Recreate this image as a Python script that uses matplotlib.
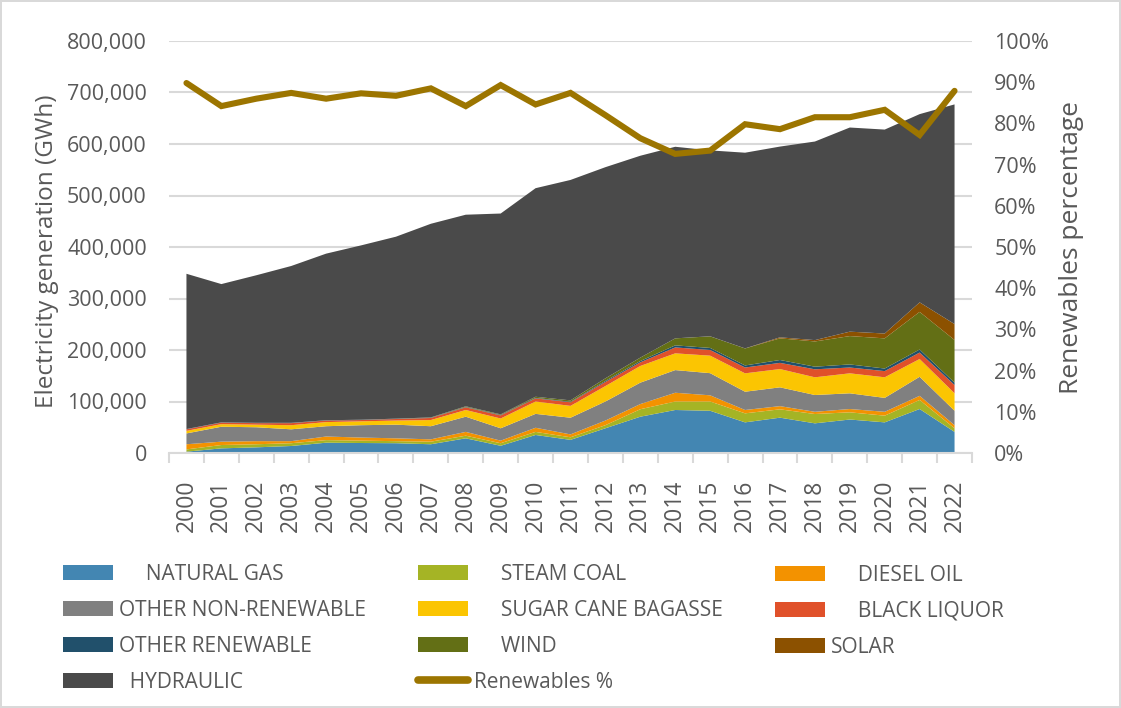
import matplotlib
matplotlib.use('Agg')
import matplotlib.pyplot as plt
import numpy as np
from matplotlib.ticker import FuncFormatter, FixedLocator
from matplotlib.patches import Patch
from matplotlib.lines import Line2D

# ---------------- data (thousand GWh) ----------------
years = [str(y) for y in range(2000, 2023)]
natural_gas = [2.6, 9, 11, 13.6, 20, 19.4, 19, 17, 28.5, 14, 35, 25.5, 48, 70.5, 83.5, 82, 59.5, 68.6, 57.6, 65, 59.5, 85.4, 41]
steam_coal = [4.4, 6.5, 6, 5.4, 5, 4.6, 4, 5, 5.1, 5, 6, 5, 6, 14.5, 16.5, 18, 17.5, 16.2, 18.1, 14, 13, 17.6, 7]
diesel_oil = [10, 6.5, 6, 4, 7, 6, 5.5, 4.5, 7.4, 5, 8, 5.6, 9, 10, 17, 12, 6.5, 6.2, 4.3, 6.4, 7.5, 8, 6]
other_nonren = [21, 29, 27, 23, 20, 24, 26.5, 25.5, 29.5, 24, 27, 32.4, 37, 41.6, 44, 43, 35.5, 36.5, 32.6, 30.5, 27, 37, 28]
sugar_cane = [5, 5, 5, 8, 8, 7.5, 8, 12, 13, 19, 24, 23, 30, 32.4, 32.5, 34, 35.7, 35.5, 34.4, 38.8, 40, 34.5, 34]
black_liquor = [3, 3, 3, 4, 3, 2.5, 3, 4, 5.2, 6, 6, 7, 8, 7, 11.5, 11, 11.3, 12, 15.5, 11.3, 12, 12.5, 16]
other_ren = [0.5, 0.5, 0.5, 0.5, 0.5, 0.5, 0.5, 0.5, 0.8, 0.8, 1, 1, 2, 2.6, 4, 4, 4, 5.6, 5.1, 6, 5, 6, 4.6]
wind = [0, 0, 0.1, 0.1, 0.1, 0.1, 0.2, 0.6, 1.2, 1.2, 2.2, 2.7, 5, 6.6, 13.6, 22.5, 33, 42, 49, 55, 58.6, 73, 82.8]
solar = [0, 0, 0, 0, 0, 0, 0, 0, 0, 0, 0, 0, 0, 0, 0.02, 0.1, 0.1, 2.0, 2.6, 8.6, 9.4, 18.5, 31]
hydraulic = [301.5, 268.5, 286.5, 304.5, 323.5, 338.5, 353.3, 376, 372, 390, 405, 428, 410, 392, 372, 361, 380, 370.4, 385.6, 396.4, 396, 365.5, 426.5]
renewables_pct = [89.8, 84.2, 86.0, 87.4, 86.0, 87.3, 86.7, 88.5, 84.2, 89.3, 84.6, 87.4, 82.0, 76.4, 72.6, 73.4, 79.8, 78.6, 81.5, 81.5, 83.3, 77.2, 87.9]

series_names = ["NATURAL GAS", "STEAM COAL", "DIESEL OIL", "OTHER NON-RENEWABLE",
                "SUGAR CANE BAGASSE", "BLACK LIQUOR", "OTHER RENEWABLE", "WIND", "SOLAR", "HYDRAULIC"]
series_vals = [natural_gas, steam_coal, diesel_oil, other_nonren, sugar_cane,
               black_liquor, other_ren, wind, solar, hydraulic]
colors = ['#4386b2', '#a5b425', '#f39200', '#808080', '#fbc502',
          '#e0512a', '#21506b', '#636f15', '#8c5100', '#4a4a4a']
line_color = '#9c7500'
text_color = '#595959'
grid_color = '#d9d9d9'

FONT = ['Open Sans', 'DejaVu Sans']
plt.rcParams['font.family'] = FONT

W, H = 1121, 708
fig = plt.figure(figsize=(W / 100, H / 100), dpi=100)
fig.patch.set_facecolor('white')
fig.patch.set_edgecolor(grid_color)
fig.patch.set_linewidth(1.5)

left, right, top, bottom = 169, 972, 41, 453
ax = fig.add_axes([left / W, 1 - bottom / H, (right - left) / W, (bottom - top) / H])

x = np.arange(len(years))
vals = [np.array(v) * 1000 for v in series_vals]
ax.stackplot(x, *vals, colors=colors, linewidth=0, zorder=2)

ax.set_xlim(-0.5, len(years) - 0.5)
ax.set_ylim(0, 800000)
ax.set_yticks(np.arange(0, 800001, 100000))
ax.yaxis.set_major_formatter(FuncFormatter(lambda v, p: f"{int(v):,}"))
ax.grid(axis='y', color=grid_color, linewidth=1.5, zorder=0)
ax.set_axisbelow(True)
for s in ['top', 'right', 'left']:
    ax.spines[s].set_visible(False)
ax.spines['bottom'].set_color(grid_color)
ax.spines['bottom'].set_linewidth(1.5)
ax.spines['bottom'].set_zorder(3)

ax.set_xticks(x)
ax.set_xticklabels(years, rotation=90, fontsize=16.5, color=text_color)
ax.tick_params(axis='x', which='major', length=0, pad=19)
ax.xaxis.set_minor_locator(FixedLocator(np.arange(-0.5, len(years), 1.0)))
ax.tick_params(axis='x', which='minor', length=7, width=1.5, color=grid_color)
ax.tick_params(axis='y', length=0, pad=16, labelsize=15.5, labelcolor=text_color)
ax.set_ylabel("Electricity generation (GWh)", fontsize=17.5, color=text_color)
ax.yaxis.set_label_coords(-(left - 47) / (right - left), 0.49)
ax.yaxis.label.set_verticalalignment('center')

ax2 = ax.twinx()
ax2.plot(x, np.array(renewables_pct) / 100, color=line_color, linewidth=4.4,
         solid_capstyle='round', solid_joinstyle='miter', zorder=5)
ax2.set_ylim(0, 1)
ax2.set_yticks(np.arange(0, 1.01, 0.1))
ax2.yaxis.set_major_formatter(FuncFormatter(lambda v, p: f"{v * 100:.0f}%"))
ax2.tick_params(axis='y', length=0, pad=16, labelsize=15.5, labelcolor=text_color)
for s in ['top', 'right', 'left', 'bottom']:
    ax2.spines[s].set_visible(False)
ax2.set_ylabel("Renewables percentage", fontsize=19, color=text_color)
ax2.yaxis.set_label_coords(1 + (1072 - right) / (right - left), 0.5)
ax2.yaxis.label.set_verticalalignment('center')

# ---------------- legend (three columns) ----------------
def patch(i):
    return Patch(facecolor=colors[i], edgecolor='none')

leg_font = {'family': FONT, 'size': 15}
lab = series_names
cols = [
    ([patch(0), patch(3), patch(6), patch(9)],
     ["     " + lab[0], lab[3], lab[6], "  " + lab[9]], 63, 628),
    ([patch(1), patch(4), patch(7), Line2D([0], [0], color=line_color, linewidth=5.5, solid_capstyle='round')],
     ["     " + lab[1], "     " + lab[4], "     " + lab[7], "Renewables %"], 418, 628),
    ([patch(2), patch(5), patch(8)],
     ["     " + lab[2], "     " + lab[5], lab[8]], 775, 611.5),
]
for handles, labels, px, py in cols:
    lg = fig.legend(handles, labels, loc='center left', bbox_to_anchor=(px / W, 1 - py / H),
                    frameon=False, prop=leg_font, handlelength=2.4, handleheight=0.72,
                    handletextpad=0.29, labelspacing=0.72, borderpad=0, borderaxespad=0)
    for t in lg.get_texts():
        t.set_color(text_color)

fig.savefig('out.png', dpi=100, facecolor='white', edgecolor=grid_color)
